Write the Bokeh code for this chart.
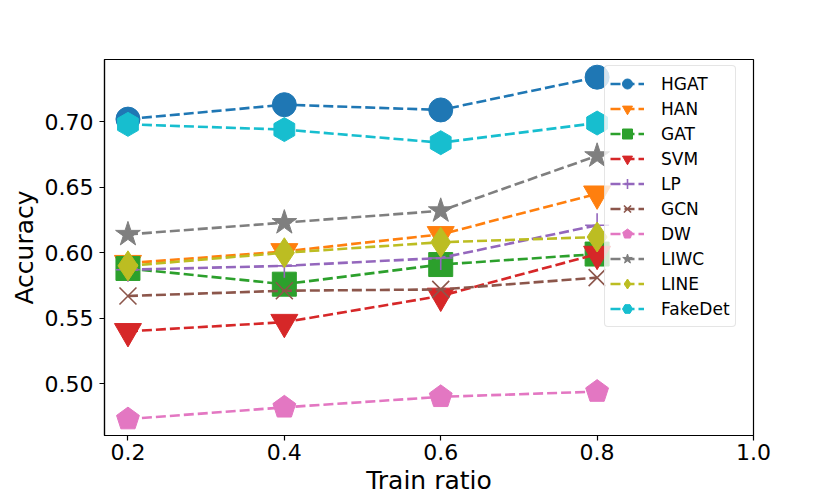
import math
from bokeh.plotting import figure
from bokeh.models import Range1d, FixedTicker, NumeralTickFormatter, Legend, LegendItem
from bokeh.embed import file_html
from bokeh.resources import INLINE

train_ratio = [0.2, 0.4, 0.6, 0.8]
hgat = [0.702, 0.713, 0.709, 0.734]
han = [0.592, 0.601, 0.614, 0.645]
gat = [0.588, 0.576, 0.591, 0.599]
svm = [0.540, 0.547, 0.567, 0.599]
lp = [0.587, 0.590, 0.596, 0.621]
gcn = [0.567, 0.571, 0.572, 0.581]
dw = [0.473, 0.482, 0.490, 0.494]
liwc = [0.614, 0.623, 0.632, 0.674]
line_method = [0.590, 0.600, 0.608, 0.612]
fakedet = [0.698, 0.694, 0.684, 0.699]

x_ticks = [0.2, 0.4, 0.6, 0.8, 1.0]
y_ticks = [0.50, 0.55, 0.60, 0.65, 0.70]

FONT = "DejaVu Sans"

p = figure(width=830, height=498, output_backend="svg", toolbar_location=None,
           x_range=Range1d(0.17, 1.0), y_range=Range1d(0.4605, 0.7475),
           min_border_left=104, min_border_right=77, min_border_top=59, min_border_bottom=63)
p.background_fill_color = "white"
p.border_fill_color = "white"
p.outline_line_color = "black"
p.outline_line_width = 1.2
p.xgrid.visible = False
p.ygrid.visible = False

for ax in (p.xaxis[0], p.yaxis[0]):
    ax.major_label_text_font = FONT
    ax.major_label_text_font_size = "22px"
    ax.major_label_text_color = "black"
    ax.axis_label_text_font = FONT
    ax.axis_label_text_font_size = "25px"
    ax.axis_label_text_font_style = "normal"
    ax.axis_label_text_color = "black"
    ax.major_tick_out = 5
    ax.major_tick_in = 0
    ax.minor_tick_out = 0
    ax.minor_tick_in = 0
    ax.major_tick_line_color = "black"
    ax.major_tick_line_width = 1.2
    ax.axis_line_color = "black"
    ax.axis_line_width = 1.2

p.xaxis.ticker = FixedTicker(ticks=x_ticks)
p.yaxis.ticker = FixedTicker(ticks=y_ticks)
p.xaxis.formatter = NumeralTickFormatter(format="0.0")
p.yaxis.formatter = NumeralTickFormatter(format="0.00")
p.xaxis.axis_label = "Train ratio"
p.yaxis.axis_label = "Accuracy"
p.xaxis.major_label_standoff = 3
p.xaxis.axis_label_standoff = 3
p.yaxis.major_label_standoff = 6
p.yaxis.axis_label_standoff = 3

series = [
    ("HGAT", hgat, "#1f77b4", "circle", 24, {}),
    ("HAN", han, "#ff7f0e", "inverted_triangle", 27, {}),
    ("GAT", gat, "#2ca02c", "square", 24, {}),
    ("SVM", svm, "#d62728", "inverted_triangle", 27, {}),
    ("LP", lp, "#9467bd", "cross", 24, {"thin": True}),
    ("GCN", gcn, "#8c564b", "x", 24, {"thin": True}),
    ("DW", dw, "#e377c2", "pentagon", 12, {}),
    ("LIWC", liwc, "#7f7f7f", "star", 26, {}),
    ("LINE", line_method, "#bcbd22", "diamond", 30, {}),
    ("FakeDet", fakedet, "#17becf", "hex", 24, {"angle": math.pi / 2}),
]

items = []
for name, vals, color, marker, size, extra in series:
    lr = p.line(train_ratio, vals, line_color=color, line_width=2.6, line_dash="10 4")
    if marker == "pentagon":
        mr = p.ngon(x=train_ratio, y=vals, radius=size, radius_units="screen", n=5,
                    fill_color=color, line_color=color, line_width=1)
    elif extra.get("thin"):
        mr = p.scatter(train_ratio, vals, marker=marker, size=size,
                       line_color=color, line_width=1.6, fill_color=None)
    else:
        mr = p.scatter(train_ratio, vals, marker=marker, size=size,
                       fill_color=color, line_color=color, line_width=1,
                       angle=extra.get("angle", 0))
    items.append(LegendItem(label=name, renderers=[lr, mr]))

legend = Legend(items=items, location=(500, 108))
legend.glyph_width = 34
legend.glyph_height = 25
legend.spacing = 0
legend.padding = 5
legend.margin = 0
legend.label_standoff = 17
legend.label_text_font = FONT
legend.label_text_font_size = "17px"
legend.label_text_color = "black"
legend.label_height = 20
legend.border_line_color = "#cccccc"
legend.border_line_width = 1
legend.background_fill_color = "white"
legend.background_fill_alpha = 0.8
if "border_radius" in Legend.properties():
    legend.border_radius = 4
p.add_layout(legend, "center")

open("out.html", "w").write(file_html(p, INLINE))
